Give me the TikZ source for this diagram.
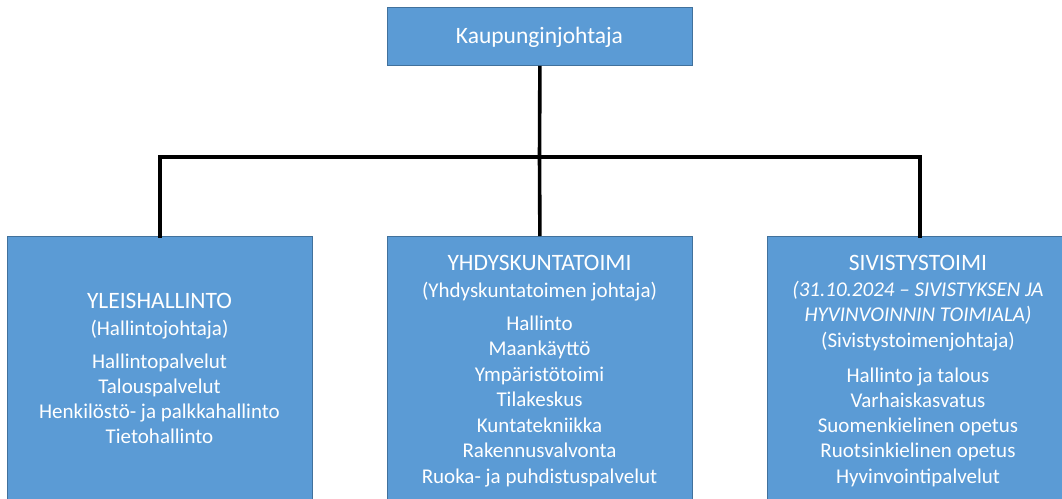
\documentclass[tikz,border=0pt]{standalone}
\usepackage{fontspec}
\setmainfont{Carlito}
\definecolor{boxfill}{HTML}{5B9BD5}
\definecolor{boxline}{HTML}{41719C}
\begin{document}
\begin{tikzpicture}[x=1pt,y=-1pt,
  orgbox/.style={draw=boxline,line width=0.8pt,fill=boxfill,inner sep=0pt,anchor=north west},
  conn/.style={line width=3.6pt,black},
  ttl/.style={text=white,anchor=base,font=\fontsize{23.5}{28}\selectfont,inner sep=0pt},
  itm/.style={text=white,anchor=base,font=\fontsize{21}{25}\selectfont,inner sep=0pt}]
\useasboundingbox (0,0) rectangle (1062,498);
% boxes
\node[orgbox,minimum width=305pt,minimum height=58pt] (top) at (387,7) {};
\node[orgbox,minimum width=305pt,minimum height=280pt] (left) at (7,236) {};
\node[orgbox,minimum width=305pt,minimum height=280pt] (mid) at (387,236) {};
\node[orgbox,minimum width=305pt,minimum height=280pt] (right) at (767,236) {};
% connectors
\coordinate (hub) at (539.5,157);
\draw[conn] (top.south) -- (hub);
\draw[conn,line cap=rect] (left.north) |- (hub) -| (right.north);
\draw[conn] (hub) -- (mid.north);
% top text
\node[ttl] (ttop) at (539.5,43) {Kaupunginjohtaja};
% left text
\node[ttl] (l1) at (159.5,308) {YLEISHALLINTO};
\node[itm] (l2) at (159.5,335) {(Hallintojohtaja)};
\node[itm] (l3) at (159.5,368) {Hallintopalvelut};
\node[itm] (l4) at (159.5,393) {Talouspalvelut};
\node[itm] (l5) at (159.5,418) {Henkilöstö- ja palkkahallinto};
\node[itm] (l6) at (159.5,443) {Tietohallinto};
% middle text
\node[ttl] (m1) at (539.5,270) {YHDYSKUNTATOIMI};
\node[itm] (m2) at (539.5,297) {(Yhdyskuntatoimen johtaja)};
\node[itm] (m3) at (539.5,330) {Hallinto};
\node[itm] (m4) at (539.5,355.5) {Maankäyttö};
\node[itm] (m5) at (539.5,381) {Ympäristötoimi};
\node[itm] (m6) at (539.5,406.5) {Tilakeskus};
\node[itm] (m7) at (539.5,432) {Kuntatekniikka};
\node[itm] (m8) at (539.5,457.5) {Rakennusvalvonta};
\node[itm] (m9) at (539.5,483) {Ruoka- ja puhdistuspalvelut};
% right text
\node[ttl] (r1) at (918,270) {SIVISTYSTOIMI};
\node[itm] (r2) at (918,296) {\itshape (31.10.2024 – SIVISTYKSEN JA};
\node[itm] (r3) at (918,321) {\itshape HYVINVOINNIN TOIMIALA)};
\node[itm] (r4) at (918,347) {(Sivistystoimenjohtaja)};
\node[itm] (r5) at (918,382) {Hallinto ja talous};
\node[itm] (r6) at (918,407.25) {Varhaiskasvatus};
\node[itm] (r7) at (918,432.5) {Suomenkielinen opetus};
\node[itm] (r8) at (918,457.75) {Ruotsinkielinen opetus};
\node[itm] (r9) at (918,483) {Hyvinvointipalvelut};
\end{tikzpicture}
\end{document}
